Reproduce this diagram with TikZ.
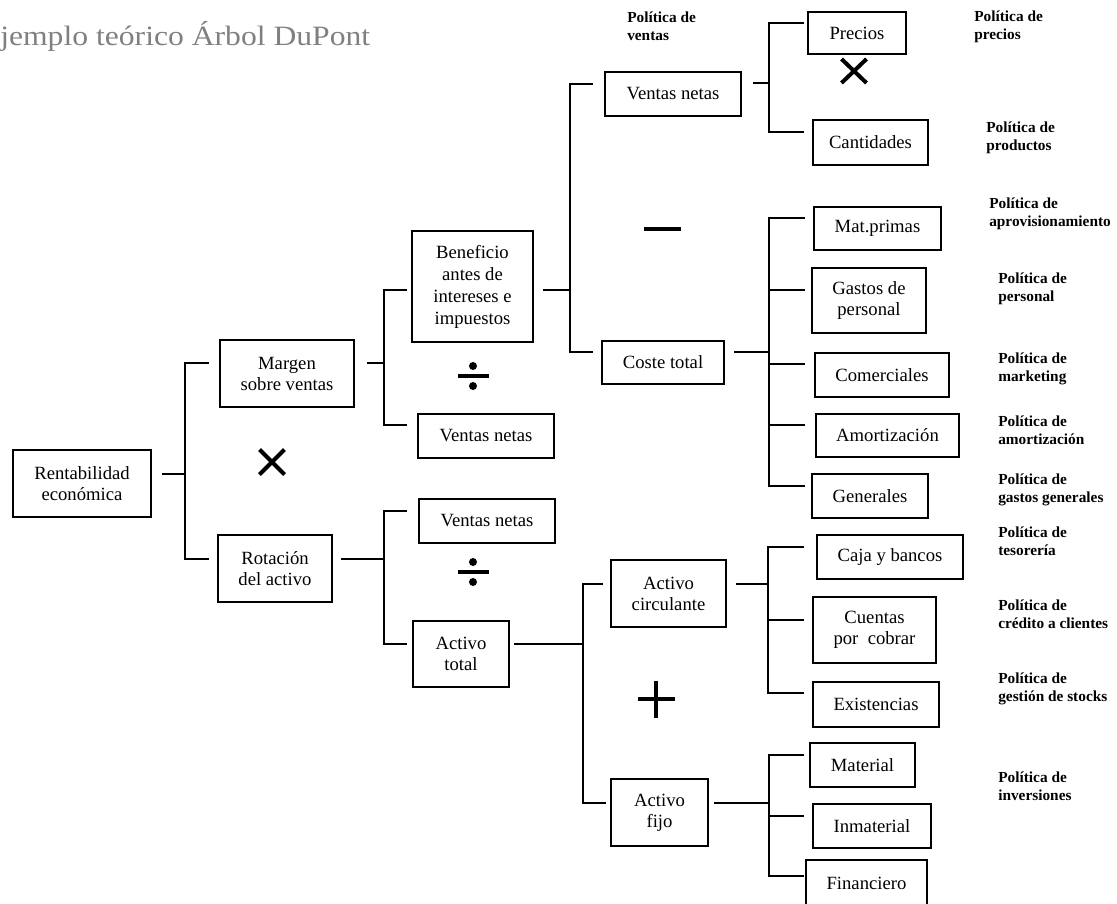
\documentclass[tikz,border=0pt]{standalone}
\usepackage{fontspec}
\setmainfont{Liberation Serif}
\usepackage{graphicx}
\usetikzlibrary{calc}
\newcommand\dpbox{\fontsize{14}{15.75}\selectfont}
\newcommand\dppol{\fontsize{11.5}{13.5}\selectfont\bfseries}
\tikzset{
  bx/.style={draw, line width=1.3pt, align=center, inner sep=0pt, font=\dpbox},
  sz/.style 2 args={minimum width=#1*0.75pt, minimum height=#2*0.75pt},
  conn/.style={line width=1.3pt},
  pol/.style={anchor=west, align=left, inner sep=0pt, font=\dppol},
  op/.style={line width=3pt},
}
\begin{document}
\begin{tikzpicture}[x=0.75pt,y=-0.75pt]
\useasboundingbox (0,0) rectangle (1117,903);
% title
\node[anchor=base west, inner sep=0pt, text=black!50] (title) at (0,45)
  {\fontsize{21}{24}\selectfont\scalebox{1.13}[1]{jemplo teórico Árbol DuPont}};
% boxes
\node[bx, sz={138}{67}] (re) at (82,483.5) {Rentabilidad\\económica};
\node[bx, sz={134}{67}] (mv) at (287,373.5) {Margen\\sobre ventas};
\node[bx, sz={114}{67}] (ra) at (275,568.5) {Rotación\\del activo};
\node[bx, sz={121}{111}, font=\fontsize{14}{16.5}\selectfont] (bai) at (472.5,286.5) {Beneficio\\antes de\\intereses e\\impuestos};
\node[bx, sz={136}{44}] (vn2) at (486,436) {Ventas netas};
\node[bx, sz={136}{44}] (vn3) at (487,521) {Ventas netas};
\node[bx, sz={96}{66}] (at) at (461,654) {Activo\\total};
\node[bx, sz={136}{44}] (vn1) at (673,94) {Ventas netas};
\node[bx, sz={122}{43}] (ct) at (663,362.5) {Coste total};
\node[bx, sz={115}{67}] (ac) at (668.5,593.5) {Activo\\circulante};
\node[bx, sz={97}{67}] (af) at (659.5,812.5) {Activo\\fijo};
\node[bx, sz={98}{42}] (pr) at (857,33) {Precios};
\node[bx, sz={115}{45}] (ca) at (870.5,142.5) {Cantidades};
\node[bx, sz={127}{43}] (mp) at (877.5,228.5) {Mat.primas};
\node[bx, sz={114}{65}] (gp) at (869,300.5) {Gastos de\\personal};
\node[bx, sz={134}{44}] (co) at (882,375) {Comerciales};
\node[bx, sz={143}{43}] (am) at (887.5,435.5) {Amortización};
\node[bx, sz={116}{44}] (ge) at (870,496) {Generales};
\node[bx, sz={146}{44}] (cb) at (890,557) {Caja y bancos};
\node[bx, sz={123}{66}] (cc) at (874.5,630) {Cuentas\\por~ cobrar};
\node[bx, sz={126}{45}] (ex) at (876,704.5) {Existencias};
\node[bx, sz={105}{44}] (ma) at (862.5,765) {Material};
\node[bx, sz={118}{44}] (in) at (872,826) {Inmaterial};
\node[bx, sz={121}{46}] (fi) at (866.5,883) {Financiero};
% connectors
\coordinate (bA) at ($(re.east)+(33,-9.5)$);
\draw[conn] ($(re.east)+(10,-9.5)$) -- (bA);
\draw[conn] ($(mv.west)+(-10,-10.5)$) -| (bA);
\draw[conn] ($(ra.west)+(-8,-9.5)$) -| (bA);
\coordinate (bB) at ($(mv.east)+(29,-10.5)$);
\draw[conn] ($(mv.east)+(12,-10.5)$) -- (bB);
\draw[conn] ($(bai.west)+(-4,3.5)$) -| (bB);
\draw[conn] ($(vn2.west)+(-10,-11)$) -| (bB);
\coordinate (bC) at ($(ra.east)+(51,-9.5)$);
\draw[conn] ($(ra.east)+(8,-9.5)$) -- (bC);
\draw[conn] ($(vn3.west)+(-11,-10)$) -| (bC);
\draw[conn] ($(at.west)+(-5,-10)$) -| (bC);
\coordinate (bD) at ($(bai.east)+(36,3.5)$);
\draw[conn] ($(bai.east)+(9,3.5)$) -- (bD);
\draw[conn] ($(vn1.west)+(-11,-10)$) -| (bD);
\draw[conn] ($(ct.west)+(-8,-10.5)$) -| (bD);
\coordinate (bE) at ($(vn1.east)+(27,-11)$);
\draw[conn] ($(vn1.east)+(11,-11)$) -- (bE);
\draw[conn] ($(pr.west)+(-3,-10)$) -| (bE);
\draw[conn] ($(ca.west)+(-8,-10.5)$) -| (bE);
\coordinate (bF) at ($(ct.east)+(44,-10.5)$);
\draw[conn] ($(ct.east)+(9,-10.5)$) -- (bF);
\draw[conn] ($(mp.west)+(-8,-10.5)$) -| (bF);
\draw[conn] ($(gp.west)+(-6,-10.5)$) -| (bF);
\draw[conn] ($(co.west)+(-9,-11)$) -| (bF);
\draw[conn] ($(am.west)+(-10,-10.5)$) -| (bF);
\draw[conn] ($(ge.west)+(-6,-10)$) -| (bF);
\coordinate (bG) at ($(at.east)+(73,-10)$);
\draw[conn] ($(at.east)+(4,-10)$) -- (bG);
\draw[conn] ($(ac.west)+(-7,-9.5)$) -| (bG);
\draw[conn] ($(af.west)+(-4,-9.5)$) -| (bG);
\coordinate (bH) at ($(ac.east)+(41,-9.5)$);
\draw[conn] ($(ac.east)+(9,-9.5)$) -- (bH);
\draw[conn] ($(cb.west)+(-12,-10)$) -| (bH);
\draw[conn] ($(cc.west)+(-8,-10)$) -| (bH);
\draw[conn] ($(ex.west)+(-8,-11.5)$) -| (bH);
\coordinate (bI) at ($(af.east)+(60,-9.5)$);
\draw[conn] ($(af.east)+(5,-9.5)$) -- (bI);
\draw[conn] ($(ma.west)+(-5,-10)$) -| (bI);
\draw[conn] ($(in.west)+(-8,-10)$) -| (bI);
\draw[conn] ($(fi.west)+(-1,-7)$) -| (bI);
% operators
\draw[op] (272,462) +(-12.5,-12.5) -- +(12.5,12.5) +(-12.5,12.5) -- +(12.5,-12.5);
\draw[op] (854,71) +(-12.5,-12) -- +(12.5,12) +(-12.5,12) -- +(12.5,-12);
\draw[op] (457.5,376) -- (488.5,376);
\fill (473,366) circle (3pt) (473,386) circle (3pt);
\draw[op] (457.5,572) -- (488.5,572);
\fill (473,562) circle (3pt) (473,582) circle (3pt);
\draw[op] (644,229) -- (681,229);
\draw[op] (637.5,699) -- (674.5,699) (656,680.5) -- (656,717.5);
% policy labels
\node[pol] (p1) at (627,26.5) {Política de\\ventas};
\node[pol] (p2) at (974,26.5) {Política de\\precios};
\node[pol] (p3) at (986,137.5) {Política de\\productos};
\node[pol] (p4) at (989,213.5) {Política de\\aprovisionamiento};
\node[pol] (p5) at (998,289) {Política de\\personal};
\node[pol] (p6) at (998,369) {Política de\\marketing};
\node[pol] (p7) at (998,430.5) {Política de\\amortización};
\node[pol] (p8) at (998,490) {Política de\\gastos generales};
\node[pol] (p9) at (998,541) {Política de\\tesorería};
\node[pol] (p10) at (998,614) {Política de\\crédito a clientes};
\node[pol] (p11) at (998,688.5) {Política de\\gestión de stocks};
\node[pol] (p12) at (998,786) {Política de\\inversiones};
\end{tikzpicture}
\end{document}
